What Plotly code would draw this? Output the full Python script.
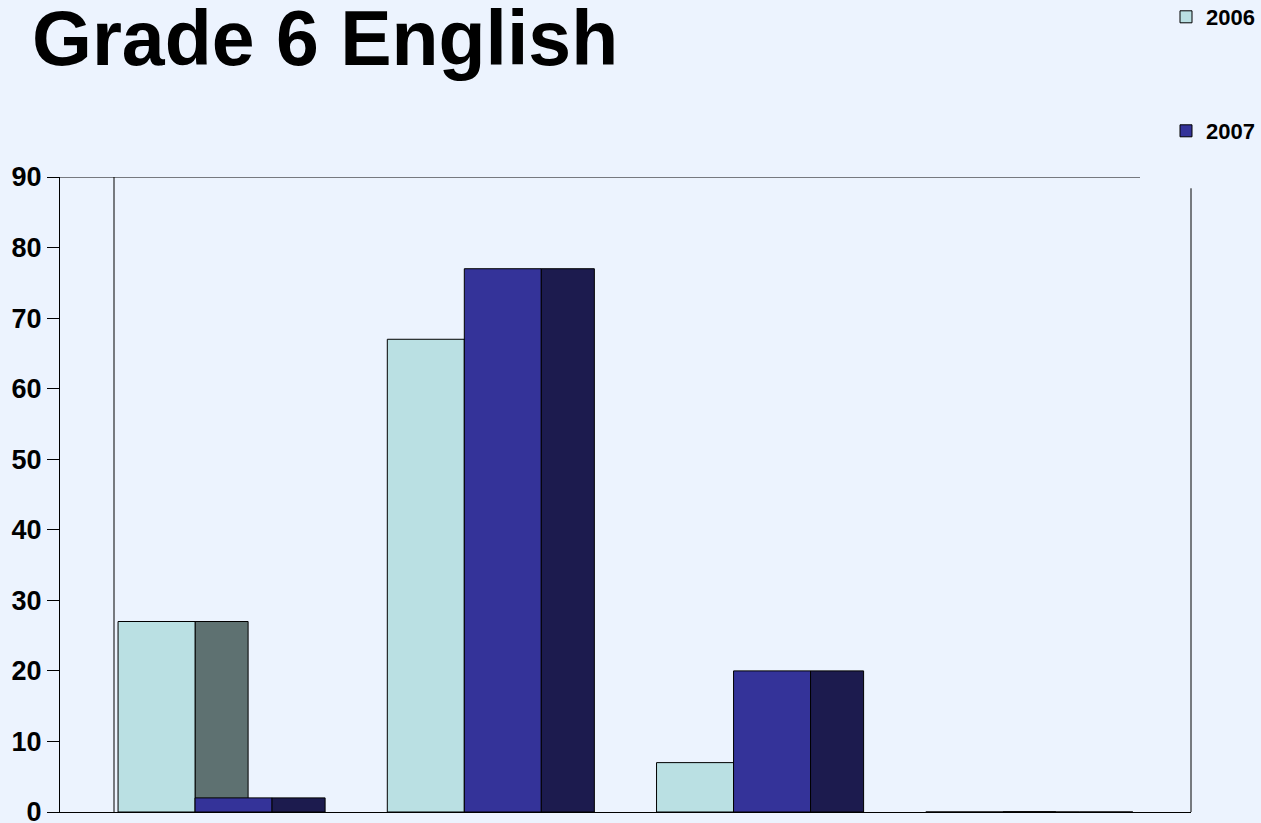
import plotly.graph_objects as go

# ---- data ----
categories = [0, 1, 2, 3]          # four unlabeled groups
series_names = ["2006", "2007"]
values_2006 = [27, 67, 7, 0]
values_2007 = [2, 77, 20, 0]
y_tick_values = [0, 10, 20, 30, 40, 50, 60, 70, 80, 90]
y_tick_labels = [str(v) for v in y_tick_values]

# ---- styling ----
BG = "#ECF3FE"
FRONT_2006 = "#BAE0E3"
SIDE_2006 = "#5E7171"
FRONT_2007 = "#343399"
SIDE_2007 = "#1C1B4E"
FONT = "Liberation Sans, Arial, sans-serif"

FRONT_W = 0.286
SIDE_W = 0.197

fig = go.Figure()

# 2006 side face (behind)
fig.add_trace(go.Bar(x=categories, y=values_2006, offset=-0.199, width=SIDE_W,
                     marker=dict(color=SIDE_2006, line=dict(color="black", width=1)),
                     showlegend=False, hoverinfo="skip"))
# 2006 front face
fig.add_trace(go.Bar(x=categories, y=values_2006, offset=-0.485, width=FRONT_W,
                     name=series_names[0], legend="legend",
                     marker=dict(color=FRONT_2006, line=dict(color="black", width=1))))
# 2007 front face
fig.add_trace(go.Bar(x=categories, y=values_2007, offset=-0.199, width=FRONT_W,
                     name=series_names[1], legend="legend2",
                     marker=dict(color=FRONT_2007, line=dict(color="black", width=1))))
# 2007 side face
fig.add_trace(go.Bar(x=categories, y=values_2007, offset=0.087, width=SIDE_W,
                     marker=dict(color=SIDE_2007, line=dict(color="black", width=1)),
                     showlegend=False, hoverinfo="skip"))

wall_x = 54 / 1131
back_right = (1140 - 60) / 1131
line = dict(color="black", width=1)
shapes = [
    dict(type="line", xref="paper", yref="y", x0=0, x1=wall_x, y0=90, y1=90, line=line),
    dict(type="line", xref="paper", yref="y", x0=wall_x, x1=wall_x, y0=0, y1=90, line=line),
    dict(type="line", xref="paper", yref="y", x0=wall_x, x1=back_right, y0=90, y1=90, line=line),
    dict(type="line", xref="paper", yref="y", x0=1, x1=1, y0=0, y1=88.4, line=line),
]

fig.update_layout(
    width=1261, height=823,
    margin=dict(l=60, r=70, t=177, b=11, autoexpand=False),
    paper_bgcolor=BG, plot_bgcolor=BG,
    barmode="overlay",
    shapes=shapes,
    title=dict(text="Grade 6 English", x=32 / 1261, xanchor="left", xref="container",
               y=1 - 38.5 / 823, yanchor="middle", yref="container",
               font=dict(family=FONT, size=77, color="black", weight="bold")),
    xaxis=dict(range=[-0.7006, 3.5], showticklabels=False, ticks="", showgrid=False,
               zeroline=False, showline=True, linecolor="black", linewidth=1),
    yaxis=dict(range=[0, 90], tickvals=y_tick_values, ticktext=y_tick_labels,
               ticks="outside", ticklen=12, tickcolor="black", tickwidth=1,
               ticklabeloverflow="allow",
               showgrid=False, zeroline=False, showline=True, linecolor="black", linewidth=1,
               tickfont=dict(family=FONT, size=27, color="black", weight="bold")),
    legend=dict(xref="container", yref="container", x=1166 / 1261, xanchor="left",
                y=1 - 17 / 823, yanchor="middle", bgcolor="rgba(0,0,0,0)",
                font=dict(family=FONT, size=22, color="black", weight="bold")),
    legend2=dict(xref="container", yref="container", x=1166 / 1261, xanchor="left",
                 y=1 - 131 / 823, yanchor="middle", bgcolor="rgba(0,0,0,0)",
                 font=dict(family=FONT, size=22, color="black", weight="bold")),
)

fig.write_html(
    "out.html",
    config={"displayModeBar": False},
    post_script="document.body.style.margin='0';document.body.style.overflow='hidden';",
)
